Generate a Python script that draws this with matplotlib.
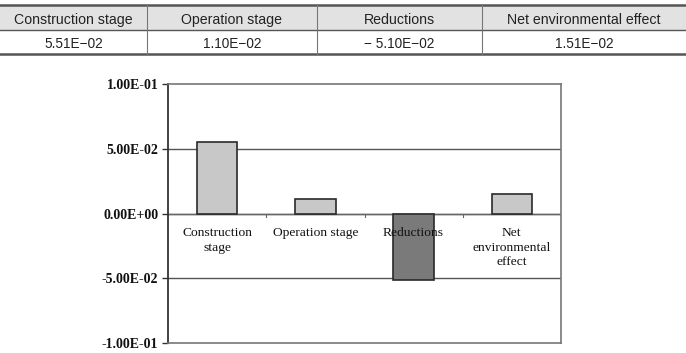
import matplotlib
matplotlib.use('Agg')
import matplotlib.pyplot as plt
from matplotlib.ticker import FuncFormatter, FixedLocator
from matplotlib.lines import Line2D
from matplotlib.patches import Rectangle

# data
categories = ['Construction stage', 'Operation stage', 'Reductions', 'Net environmental effect']
axis_labels = ['Construction\nstage', 'Operation stage', 'Reductions', 'Net\nenvironmental\neffect']
values = [5.51e-2, 1.10e-2, -5.10e-2, 1.51e-2]
table_text = ['5.51E\u221202', '1.10E\u221202', '\u2212 5.10E\u221202', '1.51E\u221202']
bar_colors = ['#c8c8c8', '#c8c8c8', '#7a7a7a', '#c8c8c8']
yticks = [-0.1, -0.05, 0.0, 0.05, 0.1]

W, H = 686, 353
fig = plt.figure(figsize=(W / 100, H / 100), dpi=100)

# table at the top (pixel coords -> figure fraction)
def fx(px):
    return px / W

def fy(py):
    return 1 - py / H

col_edges = [0, 147, 317, 482, 686]
row_top, row_mid, row_bot = 5, 30, 54
fig.patches.append(Rectangle((0, fy(row_mid)), 1, fy(row_top) - fy(row_mid),
                             transform=fig.transFigure, facecolor='#e2e2e2',
                             edgecolor='none', zorder=0))
for y, lw, c in [(row_top, 1.8, '#555555'), (row_mid, 1.0, '#555555'), (row_bot, 1.8, '#555555')]:
    fig.lines.append(Line2D([0, 1], [fy(y), fy(y)], transform=fig.transFigure,
                            color=c, lw=lw))
for x in col_edges[1:-1]:
    fig.lines.append(Line2D([fx(x), fx(x)], [fy(row_top), fy(row_bot)],
                            transform=fig.transFigure, color='#777777', lw=0.8))
for i in range(4):
    cx = fx((col_edges[i] + col_edges[i + 1]) / 2)
    fig.text(cx, fy((row_top + row_mid) / 2 + 1), categories[i], ha='center',
             va='center_baseline', fontsize=10.2, family='Liberation Sans', color='#222222')
    fig.text(cx, fy((row_mid + row_bot) / 2 + 1), table_text[i], ha='center',
             va='center_baseline', fontsize=9.8, family='Liberation Sans', color='#222222')

# bar chart
ax = fig.add_axes([168 / W, 1 - 343 / H, (561 - 168) / W, (343 - 84) / H])
x = range(len(values))
ax.bar(x, values, width=0.41, color=bar_colors, edgecolor='#2a2a2a', linewidth=1.2, zorder=3)
ax.set_xlim(-0.5, 3.5)
ax.set_ylim(-0.1, 0.1)
ax.yaxis.set_major_locator(FixedLocator(yticks))
ax.yaxis.set_major_formatter(FuncFormatter(lambda v, p: f'{v:.2E}'))
for v in yticks[1:-1]:
    ax.axhline(v, color='#555555', lw=1.0, zorder=1)
ax.axhline(0, color='#666666', lw=1.0, zorder=2)

# small ticks on the zero line at category boundaries
for b in [0.5, 1.5, 2.5]:
    ax.plot([b, b], [0, -0.003], color='#666666', lw=0.8, zorder=2)

ax.set_xticks([])
for i, lab in enumerate(axis_labels):
    ax.text(i, -0.0105, lab, ha='center', va='top', fontsize=9.7, family='Liberation Serif',
            color='#111111', linespacing=1.28, zorder=5)

ax.tick_params(axis='y', labelsize=10, length=4, width=1.0, color='#333333', pad=3)
for lab in ax.get_yticklabels():
    lab.set_family('Liberation Serif')
    lab.set_fontweight('bold')
    lab.set_color('#111111')
ax.spines['left'].set_color('#333333')
ax.spines['left'].set_linewidth(1.3)
for s in ['top', 'right', 'bottom']:
    ax.spines[s].set_color('#777777')
    ax.spines[s].set_linewidth(1.2)

fig.savefig('out.png', dpi=100)
